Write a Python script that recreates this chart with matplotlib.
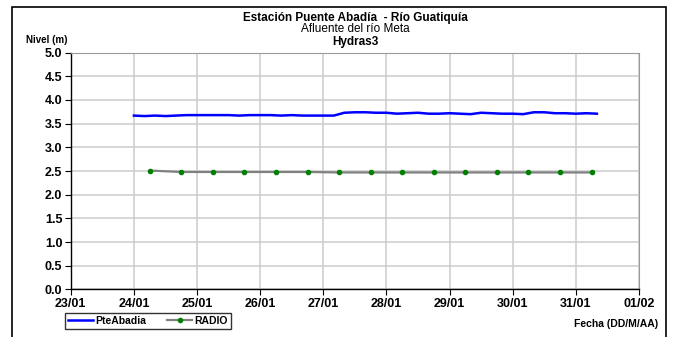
import pandas as pd
import matplotlib
matplotlib.use("Agg")
import matplotlib.pyplot as plt
from matplotlib.patches import Rectangle

plt.rcParams['font.family'] = ['Liberation Sans', 'DejaVu Sans']

# PteAbadia level, every 4 hours from 24/01 00:00
pte_start = "2013-01-24 00:00"
pte_nivel = [3.67, 3.66, 3.67, 3.66, 3.67, 3.68,
             3.68, 3.68, 3.68, 3.68, 3.67, 3.68,
             3.68, 3.68, 3.67, 3.68, 3.67, 3.67,
             3.67, 3.67, 3.73, 3.74, 3.74, 3.73,
             3.73, 3.71, 3.72, 3.73, 3.71, 3.71,
             3.72, 3.71, 3.70, 3.73, 3.72, 3.71,
             3.71, 3.70, 3.74, 3.74, 3.72, 3.72,
             3.71, 3.72, 3.71]

# RADIO readings, every 12 hours from 24/01 06:00
radio_start = "2013-01-24 06:00"
radio_nivel = [2.51, 2.48, 2.48, 2.48, 2.48, 2.48, 2.47, 2.47,
               2.47, 2.47, 2.47, 2.47, 2.47, 2.47, 2.47]

x_ticks = pd.date_range("2013-01-23", "2013-02-01", freq="D")
x_labels = ["23/01", "24/01", "25/01", "26/01", "27/01",
            "28/01", "29/01", "30/01", "31/01", "01/02"]
y_ticks = [0.0, 0.5, 1.0, 1.5, 2.0, 2.5, 3.0, 3.5, 4.0, 4.5, 5.0]

pte_t = pd.date_range(pte_start, periods=len(pte_nivel), freq="4h")
radio_t = pd.date_range(radio_start, periods=len(radio_nivel), freq="12h")

fig = plt.figure(figsize=(6.74, 3.37), dpi=100)
ax = fig.add_axes([0.105, 0.141, 0.843, 0.703])

# outer frame
fig.patches.append(Rectangle((12 / 674, -0.05), 654 / 674, 1.05 - 7 / 337,
                             transform=fig.transFigure, fill=False,
                             edgecolor='black', lw=1.2))

ax.plot(pte_t, pte_nivel, color='#0000ff', lw=1.8, label='PteAbadia', zorder=3)
ax.plot(radio_t, radio_nivel, color='#808080', lw=1.6, marker='o', ms=3,
        mfc='#008000', mec='#008000', label='RADIO', zorder=3)

ax.set_xlim(x_ticks[0], x_ticks[-1])
ax.set_ylim(0, 5)
ax.set_xticks(x_ticks)
ax.set_xticklabels(x_labels, fontsize=9, fontweight='bold')
ax.set_yticks(y_ticks)
ax.set_yticklabels([f"{v:.1f}" for v in y_ticks], fontsize=9, fontweight='bold')
ax.grid(True, color='#cccccc', lw=1.1)
ax.set_axisbelow(True)
ax.tick_params(axis='both', direction='out', length=4, width=0.8, pad=2)
for s in ('top', 'right'):
    ax.spines[s].set_color('#999999')
for s in ('left', 'bottom'):
    ax.spines[s].set_color('black')
    ax.spines[s].set_linewidth(1.0)

fig.text(355 / 674, 1 - 18 / 337, "Estación Puente Abadía  - Río Guatiquía",
         ha='center', va='center', fontsize=8.5, fontweight='bold')
fig.text(355 / 674, 1 - 29.5 / 337, "Afluente del río Meta",
         ha='center', va='center', fontsize=8.5)
fig.text(355 / 674, 1 - 41.5 / 337, "Hydras3",
         ha='center', va='center', fontsize=8.5, fontweight='bold')
fig.text(26 / 674, 1 - 40 / 337, "Nivel (m)",
         ha='left', va='center', fontsize=7, fontweight='bold')
fig.text(658 / 674, 1 - 324 / 337, "Fecha (DD/M/AA)",
         ha='right', va='center', fontsize=7.5, fontweight='bold')

leg = fig.legend(loc='center', bbox_to_anchor=(148 / 674, 1 - 321 / 337),
                 ncol=2, fontsize=7.5, frameon=True, fancybox=False,
                 handlelength=2.4, handletextpad=0.2, columnspacing=2.0,
                 borderpad=0.3, borderaxespad=0)
leg.get_frame().set_edgecolor('black')
leg.get_frame().set_linewidth(1.0)
for t in leg.get_texts():
    t.set_fontweight('bold')

fig.savefig("out.png", dpi=100)
